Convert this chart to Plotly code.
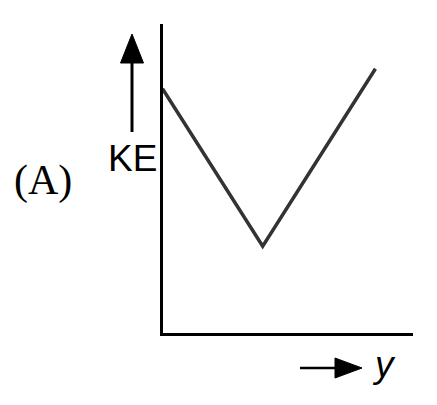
import plotly.graph_objects as go

# Kinetic energy against position y: falls linearly to a minimum, then rises
y_pos = [0.0, 4.0, 8.5]
ke_vals = [7.9, 2.8, 8.55]

W, H = 437, 405

# plot area (pixel edges of the axes box)
left, right, top, bottom = 162.5, 413.0, 24.0, 332.5


def px(x):
    return x / W


def py(y):
    return 1 - y / H


fig = go.Figure()
fig.add_trace(go.Scatter(
    x=y_pos, y=ke_vals, mode="lines",
    line=dict(color="#333333", width=3.5),
    cliponaxis=False, hoverinfo="skip", showlegend=False,
))

axis_common = dict(
    showline=True, linecolor="black", linewidth=3,
    showgrid=False, zeroline=False, showticklabels=False, ticks="",
    fixedrange=True,
)

fig.update_layout(
    width=W, height=H,
    margin=dict(l=0, r=0, t=0, b=0),
    paper_bgcolor="white", plot_bgcolor="white",
    xaxis=dict(range=[0, 10], domain=[px(left), px(right)], **axis_common),
    yaxis=dict(range=[0, 10], domain=[py(bottom), py(top)], **axis_common),
)

# upward arrow beside the KE label
shapes = [
    dict(type="line", xref="paper", yref="paper",
         x0=px(132), y0=py(132), x1=px(132), y1=py(58),
         line=dict(color="black", width=3)),
    dict(type="path", xref="paper", yref="paper",
         path=f"M {px(120.5)} {py(63)} L {px(132)} {py(34)} L {px(143.5)} {py(63)} Z",
         fillcolor="black", line=dict(color="black", width=1)),
    # rightward arrow under the horizontal axis
    dict(type="line", xref="paper", yref="paper",
         x0=px(300), y0=py(368), x1=px(340), y1=py(368),
         line=dict(color="black", width=2.5)),
    dict(type="path", xref="paper", yref="paper",
         path=f"M {px(335)} {py(358)} L {px(362)} {py(368)} L {px(335)} {py(378)} Z",
         fillcolor="black", line=dict(color="black", width=1)),
]
fig.update_layout(shapes=shapes)

annotations = [
    dict(text="KE", x=px(132), y=py(158), xref="paper", yref="paper",
         showarrow=False, xanchor="center", yanchor="middle",
         font=dict(family="Liberation Sans, Arial", size=37, color="black")),
    dict(text="(A)", x=px(42.5), y=py(181), xref="paper", yref="paper",
         showarrow=False, xanchor="center", yanchor="middle",
         font=dict(family="Liberation Serif, Times New Roman", size=42, color="black")),
    dict(text="<i>y</i>", x=px(384), y=py(364), xref="paper", yref="paper",
         showarrow=False, xanchor="center", yanchor="middle",
         font=dict(family="Liberation Sans, Arial", size=37, color="black")),
]
fig.update_layout(annotations=annotations)

fig.write_html("out.html")
